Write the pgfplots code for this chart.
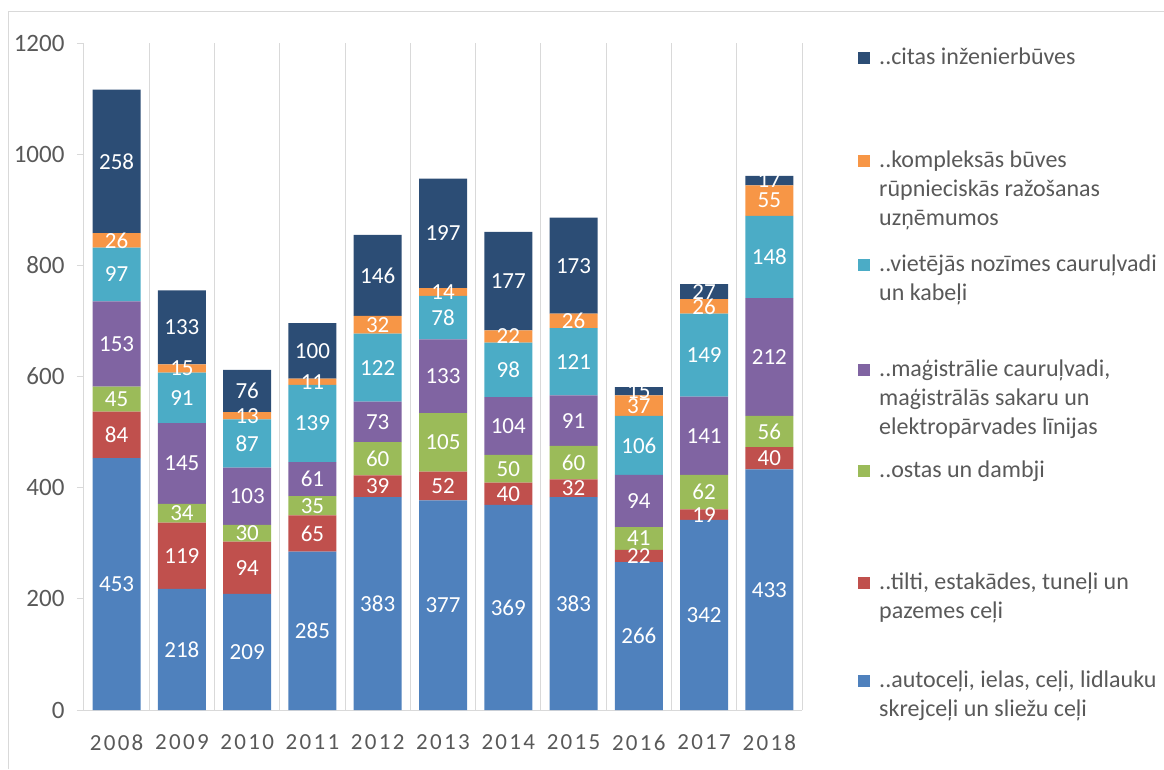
\documentclass[border=0pt]{standalone}
\usepackage{pgfplots}
\pgfplotsset{compat=1.18}
\usepackage{fontspec}
\setmainfont{Carlito}
\newfontfamily\yearfont[LetterSpace=10]{Carlito}
\definecolor{cAuto}{HTML}{4F81BD}
\definecolor{cTilti}{HTML}{C0504D}
\definecolor{cOstas}{HTML}{9BBB59}
\definecolor{cMag}{HTML}{8064A2}
\definecolor{cViet}{HTML}{4BACC6}
\definecolor{cKomp}{HTML}{F79646}
\definecolor{cCitas}{HTML}{2C4D75}
\definecolor{gridc}{HTML}{D9D9D9}
\definecolor{txt}{HTML}{595959}
\newcommand{\fs}{\fontsize{23}{27}\selectfont}
\newcommand{\fy}{\fontsize{25}{29}\selectfont}
\newcommand{\fl}{\fontsize{24}{28}\selectfont}
\begin{document}
\begin{tikzpicture}[x=1pt,y=1pt]
\path[use as bounding box] (0pt,0pt) rectangle (1164pt,-769pt);
\draw[gridc, line width=1pt] (8pt,-769pt) -- (8pt,-11pt) -- (1164pt,-11pt);
\begin{axis}[
  at={(84pt,-710pt)}, anchor=south west,
  scale only axis, width=718pt, height=667pt,
  ybar stacked, bar width=48pt,
  xmin=-0.5, xmax=10.5, ymin=0, ymax=1200,
  xtick={0,...,10},
  xticklabels={2008,2009,2010,2011,2012,2013,2014,2015,2016,2017,2018},
  minor xtick={-0.5,0.5,...,10.5},
  xminorgrids=true,
  minor grid style={gridc, line width=1pt},
  ytick={0,200,...,1200},
  /pgf/number format/assume math mode=true,
  /pgf/number format/1000 sep={},
  axis lines*=left,
  y axis line style={draw=none},
  x axis line style={gridc, line width=1pt, -},
  x tick style={draw=none},
  minor x tick style={draw=none},
  y tick style={gridc, line width=1pt},
  tick align=outside,
  major tick length=7pt,
  xticklabel style={font=\yearfont\fs, text=txt, yshift=-14pt},
  yticklabel style={font=\fy, text=txt, xshift=-9pt},
  point meta=explicit symbolic,
  nodes near coords={\pgfplotspointmeta},
  every node near coord/.append style={anchor=center, text=white, font=\fs, inner sep=0pt},
  clip=false,
]
\addplot[fill=cAuto, draw=none] coordinates {(0,453)[453] (1,218)[218] (2,209)[209] (3,285)[285] (4,383)[383] (5,377)[377] (6,369)[369] (7,383)[383] (8,266)[266] (9,342)[342] (10,433)[433]};
\addplot[fill=cTilti, draw=none] coordinates {(0,84)[84] (1,119)[119] (2,94)[94] (3,65)[65] (4,39)[39] (5,52)[52] (6,40)[40] (7,32)[32] (8,22)[22] (9,19)[19] (10,40)[40]};
\addplot[fill=cOstas, draw=none] coordinates {(0,45)[45] (1,34)[34] (2,30)[30] (3,35)[35] (4,60)[60] (5,105)[105] (6,50)[50] (7,60)[60] (8,41)[41] (9,62)[62] (10,56)[56]};
\addplot[fill=cMag, draw=none] coordinates {(0,153)[153] (1,145)[145] (2,103)[103] (3,61)[61] (4,73)[73] (5,133)[133] (6,104)[104] (7,91)[91] (8,94)[94] (9,141)[141] (10,212)[212]};
\addplot[fill=cViet, draw=none] coordinates {(0,97)[97] (1,91)[91] (2,87)[87] (3,139)[139] (4,122)[122] (5,78)[78] (6,98)[98] (7,121)[121] (8,106)[106] (9,149)[149] (10,148)[148]};
\addplot[fill=cKomp, draw=none] coordinates {(0,26)[26] (1,15)[15] (2,13)[13] (3,11)[11] (4,32)[32] (5,14)[14] (6,22)[22] (7,26)[26] (8,37)[37] (9,26)[26] (10,55)[55]};
\addplot[fill=cCitas, draw=none] coordinates {(0,258)[258] (1,133)[133] (2,76)[76] (3,100)[100] (4,146)[146] (5,197)[197] (6,177)[177] (7,173)[173] (8,15)[15] (9,27)[27] (10,17)[17]};
\end{axis}
% legend
\begin{scope}[every node/.style={anchor=base west, inner sep=0pt, text=txt, font=\fl}]
\fill[cCitas] (858pt,-51.5pt) rectangle (870pt,-63.5pt);
\node at (879pt,-64pt) {..citas inženierbūves};
\fill[cKomp] (858pt,-154.5pt) rectangle (870pt,-166.5pt);
\node at (879pt,-167pt) {..kompleksās būves};
\node at (879pt,-196pt) {rūpnieciskās ražošanas};
\node at (879pt,-225pt) {uzņēmumos};
\fill[cViet] (858pt,-258.5pt) rectangle (870pt,-270.5pt);
\node at (879pt,-271pt) {..vietējās nozīmes cauruļvadi};
\node at (879pt,-300pt) {un kabeļi};
\fill[cMag] (858pt,-363.5pt) rectangle (870pt,-375.5pt);
\node at (879pt,-376pt) {..maģistrālie cauruļvadi,};
\node at (879pt,-405pt) {maģistrālās sakaru un};
\node at (879pt,-434pt) {elektropārvades līnijas};
\fill[cOstas] (858pt,-464.5pt) rectangle (870pt,-476.5pt);
\node at (879pt,-477pt) {..ostas un dambji};
\fill[cTilti] (858pt,-576.5pt) rectangle (870pt,-588.5pt);
\node at (879pt,-589pt) {..tilti, estakādes, tuneļi un};
\node at (879pt,-618pt) {pazemes ceļi};
\fill[cAuto] (858pt,-674.5pt) rectangle (870pt,-686.5pt);
\node at (879pt,-687pt) {..autoceļi, ielas, ceļi, lidlauku};
\node at (879pt,-716pt) {skrejceļi un sliežu ceļi};
\end{scope}
\end{tikzpicture}
\end{document}
